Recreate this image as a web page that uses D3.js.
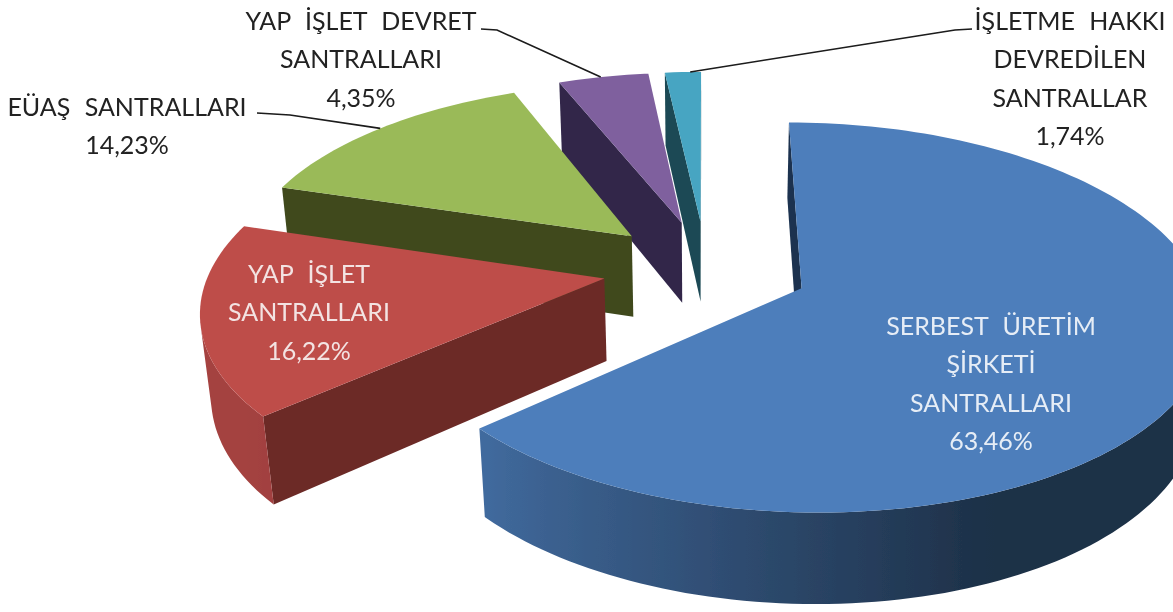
<!DOCTYPE html>
<html lang="en">

<head>
    <meta charset="UTF-8">
    <title>Santral Dagilimi</title>
    <script src="https://d3js.org/d3.v7.min.js"></script>
    <style>
        html, body {
            margin: 0;
            background-color: white;
            overflow: hidden;
        }

        text {
            font-family: Lato, "Open Sans", sans-serif;
            font-size: 25px;
            word-spacing: 8px;
            text-anchor: middle;
        }
    </style>
</head>

<body>

    <svg width="1173" height="612" id="pieCanvas"></svg>

    <script>
        // Chart data, pie order clockwise from 12 o'clock
        const categories = ["SERBEST ÜRETİM ŞİRKETİ SANTRALLARI", "YAP İŞLET SANTRALLARI", "EÜAŞ SANTRALLARI", "YAP İŞLET DEVRET SANTRALLARI", "İŞLETME HAKKI DEVREDİLEN SANTRALLAR"];
        const values = [63.46, 16.22, 14.23, 4.35, 1.74];
        const labelLines = [
            ["SERBEST ÜRETİM", "ŞİRKETİ", "SANTRALLARI"],
            ["YAP İŞLET", "SANTRALLARI"],
            ["EÜAŞ SANTRALLARI"],
            ["YAP İŞLET DEVRET", "SANTRALLARI"],
            ["İŞLETME HAKKI", "DEVREDİLEN", "SANTRALLAR"]
        ];
        const percentLabels = ["63,46%", "16,22%", "14,23%", "4,35%", "1,74%"];

        // Styles
        const topColors = ["#4d7ebb", "#be4d4a", "#9aba59", "#7f619e", "#47a5c2"];
        const faceColors = ["#1c3350", "#6c2a27", "#3f4a1f", "#30264a", "#1c4a54"];
        const labelColors = ["#e6edf6", "#f3e3e2", "#222", "#222", "#222"];

        // Label placement (x centre, first line y, line step)
        const labelPos = [[991, 335], [309, 283], [127, 116], [361, 30], [1070, 30]];
        const lineStep = 38.4;
        // Leader lines: text end, knee; third point comes from the slice rim
        const leaderKnees = [null, null, [[257, 113], [290, 115]], [[481, 29], [497, 30]], [[972, 29], [955, 30]]];
        const leaderRim = [null, null, 0.5, 0.47, 0.7];

        // Perspective camera fitted to the picture
        const vanishX = 705, horizonY = -976, groundH = 1266, camD = 2656, tiltK = 0.000197;
        const radius = 401, thickness = 113, explode = 105;
        const pieCentre = [1, 47];

        function project(x, y, z) {
            const s = 1 / (1 + y / camD + z * tiltK);
            return [vanishX + x * s, horizonY + (groundH + z) * s];
        }

        // Rim shading by angle, the light falls from the left
        const rimShade = d3.scaleLinear()
            .domain([158, 200, 230, 290].map(d => d * Math.PI / 180))
            .range([0.38, 0.67, 0.86, 0.88])
            .clamp(true);

        const svg = d3.select("#pieCanvas");
        const defs = svg.append("defs");
        defs.append("filter").attr("id", "soft")
            .attr("x", 0).attr("y", 0).attr("width", 1).attr("height", 1)
            .attr("filterUnits", "objectBoundingBox")
            .append("feGaussianBlur").attr("stdDeviation", 0.7);

        const chart = svg.append("g").attr("filter", "url(#soft)");
        chart.append("rect").attr("width", 1173).attr("height", 612).attr("fill", "white");

        const line = d3.line();
        const arcs = d3.pie().sort(null)(values);

        function wallOf(u, v) {
            return [project(u[0], u[1], 0), project(v[0], v[1], 0), project(v[0], v[1], thickness), project(u[0], u[1], thickness)];
        }

        function drawFace(g, u, v, color) {
            const quad = wallOf(u, v);
            if (d3.polygonArea(quad) > 0) {
                g.append("path").attr("d", line(quad) + "Z").attr("fill", color);
            }
        }

        function apexOf(d) {
            const mid = (d.startAngle + d.endAngle) / 2;
            return [pieCentre[0] + explode * Math.sin(mid), pieCentre[1] + explode * Math.cos(mid)];
        }

        function rimPoint(d, a) {
            const apex = apexOf(d);
            return [apex[0] + radius * Math.sin(a), apex[1] + radius * Math.cos(a)];
        }

        // Outer wall: one path with a horizontal gradient, only the part facing the viewer
        function drawRim(g, d, i, steps) {
            const shown = steps.filter((a, k) => k < steps.length - 1 &&
                d3.polygonArea(wallOf(rimPoint(d, a), rimPoint(d, steps[k + 1]))) > 0);
            if (!shown.length) return;
            const angles = shown.concat([shown[shown.length - 1] + Math.PI / 120]);
            const upper = angles.map(a => { const p = rimPoint(d, Math.min(a, d.endAngle)); return project(p[0], p[1], 0); });
            const lower = angles.map(a => { const p = rimPoint(d, Math.min(a, d.endAngle)); return project(p[0], p[1], thickness); });
            const xs = d3.extent(upper.concat(lower), p => p[0]);
            const toOffset = d3.scaleLinear().domain(xs).range([0, 1]);

            const grad = defs.append("linearGradient").attr("id", "rim" + i)
                .attr("gradientUnits", "userSpaceOnUse")
                .attr("x1", xs[0]).attr("x2", xs[1]).attr("y1", 0).attr("y2", 0);
            const stops = angles.map((a, k) => ({ off: toOffset(upper[k][0]), color: d3.interpolateRgb("black", topColors[i])(rimShade(a)) }))
                .sort((a, b) => a.off - b.off);
            grad.selectAll("stop").data(stops).join("stop")
                .attr("offset", s => s.off)
                .attr("stop-color", s => s.color);

            g.append("path").attr("d", line(upper.concat(lower.reverse())) + "Z").attr("fill", "url(#rim" + i + ")");
        }

        // Painter's order, far slices first
        const drawOrder = [4, 3, 2, 0, 1];
        drawOrder.forEach(i => {
            const d = arcs[i];
            const g = chart.append("g");
            const apex = apexOf(d);
            const steps = d3.range(d.startAngle, d.endAngle, Math.PI / 120).concat([d.endAngle]);
            const rim = steps.map(a => rimPoint(d, a));

            drawFace(g, apex, rim[0], faceColors[i]);
            drawFace(g, rim[rim.length - 1], apex, faceColors[i]);
            drawRim(g, d, i, steps);

            const top = [apex].concat(rim).map(p => project(p[0], p[1], 0));
            g.append("path").attr("d", line(top) + "Z").attr("fill", topColors[i]);
        });

        // Leader lines
        arcs.forEach((d, i) => {
            if (!leaderKnees[i]) return;
            const a = d.startAngle + (d.endAngle - d.startAngle) * leaderRim[i];
            const end = rimPoint(d, a);
            const pts = leaderKnees[i].concat([project(end[0], end[1], 0)]);
            chart.append("path").attr("d", line(pts)).attr("fill", "none").attr("stroke", "#1a1a1a").attr("stroke-width", 1.6);
        });

        // Data labels
        labelLines.forEach((lines, i) => {
            const t = chart.append("text").attr("fill", labelColors[i]);
            lines.concat([percentLabels[i]]).forEach((s, k) => {
                t.append("tspan")
                    .attr("x", labelPos[i][0])
                    .attr("y", labelPos[i][1] + k * lineStep)
                    .text(s);
            });
        });
    </script>

</body>

</html>
